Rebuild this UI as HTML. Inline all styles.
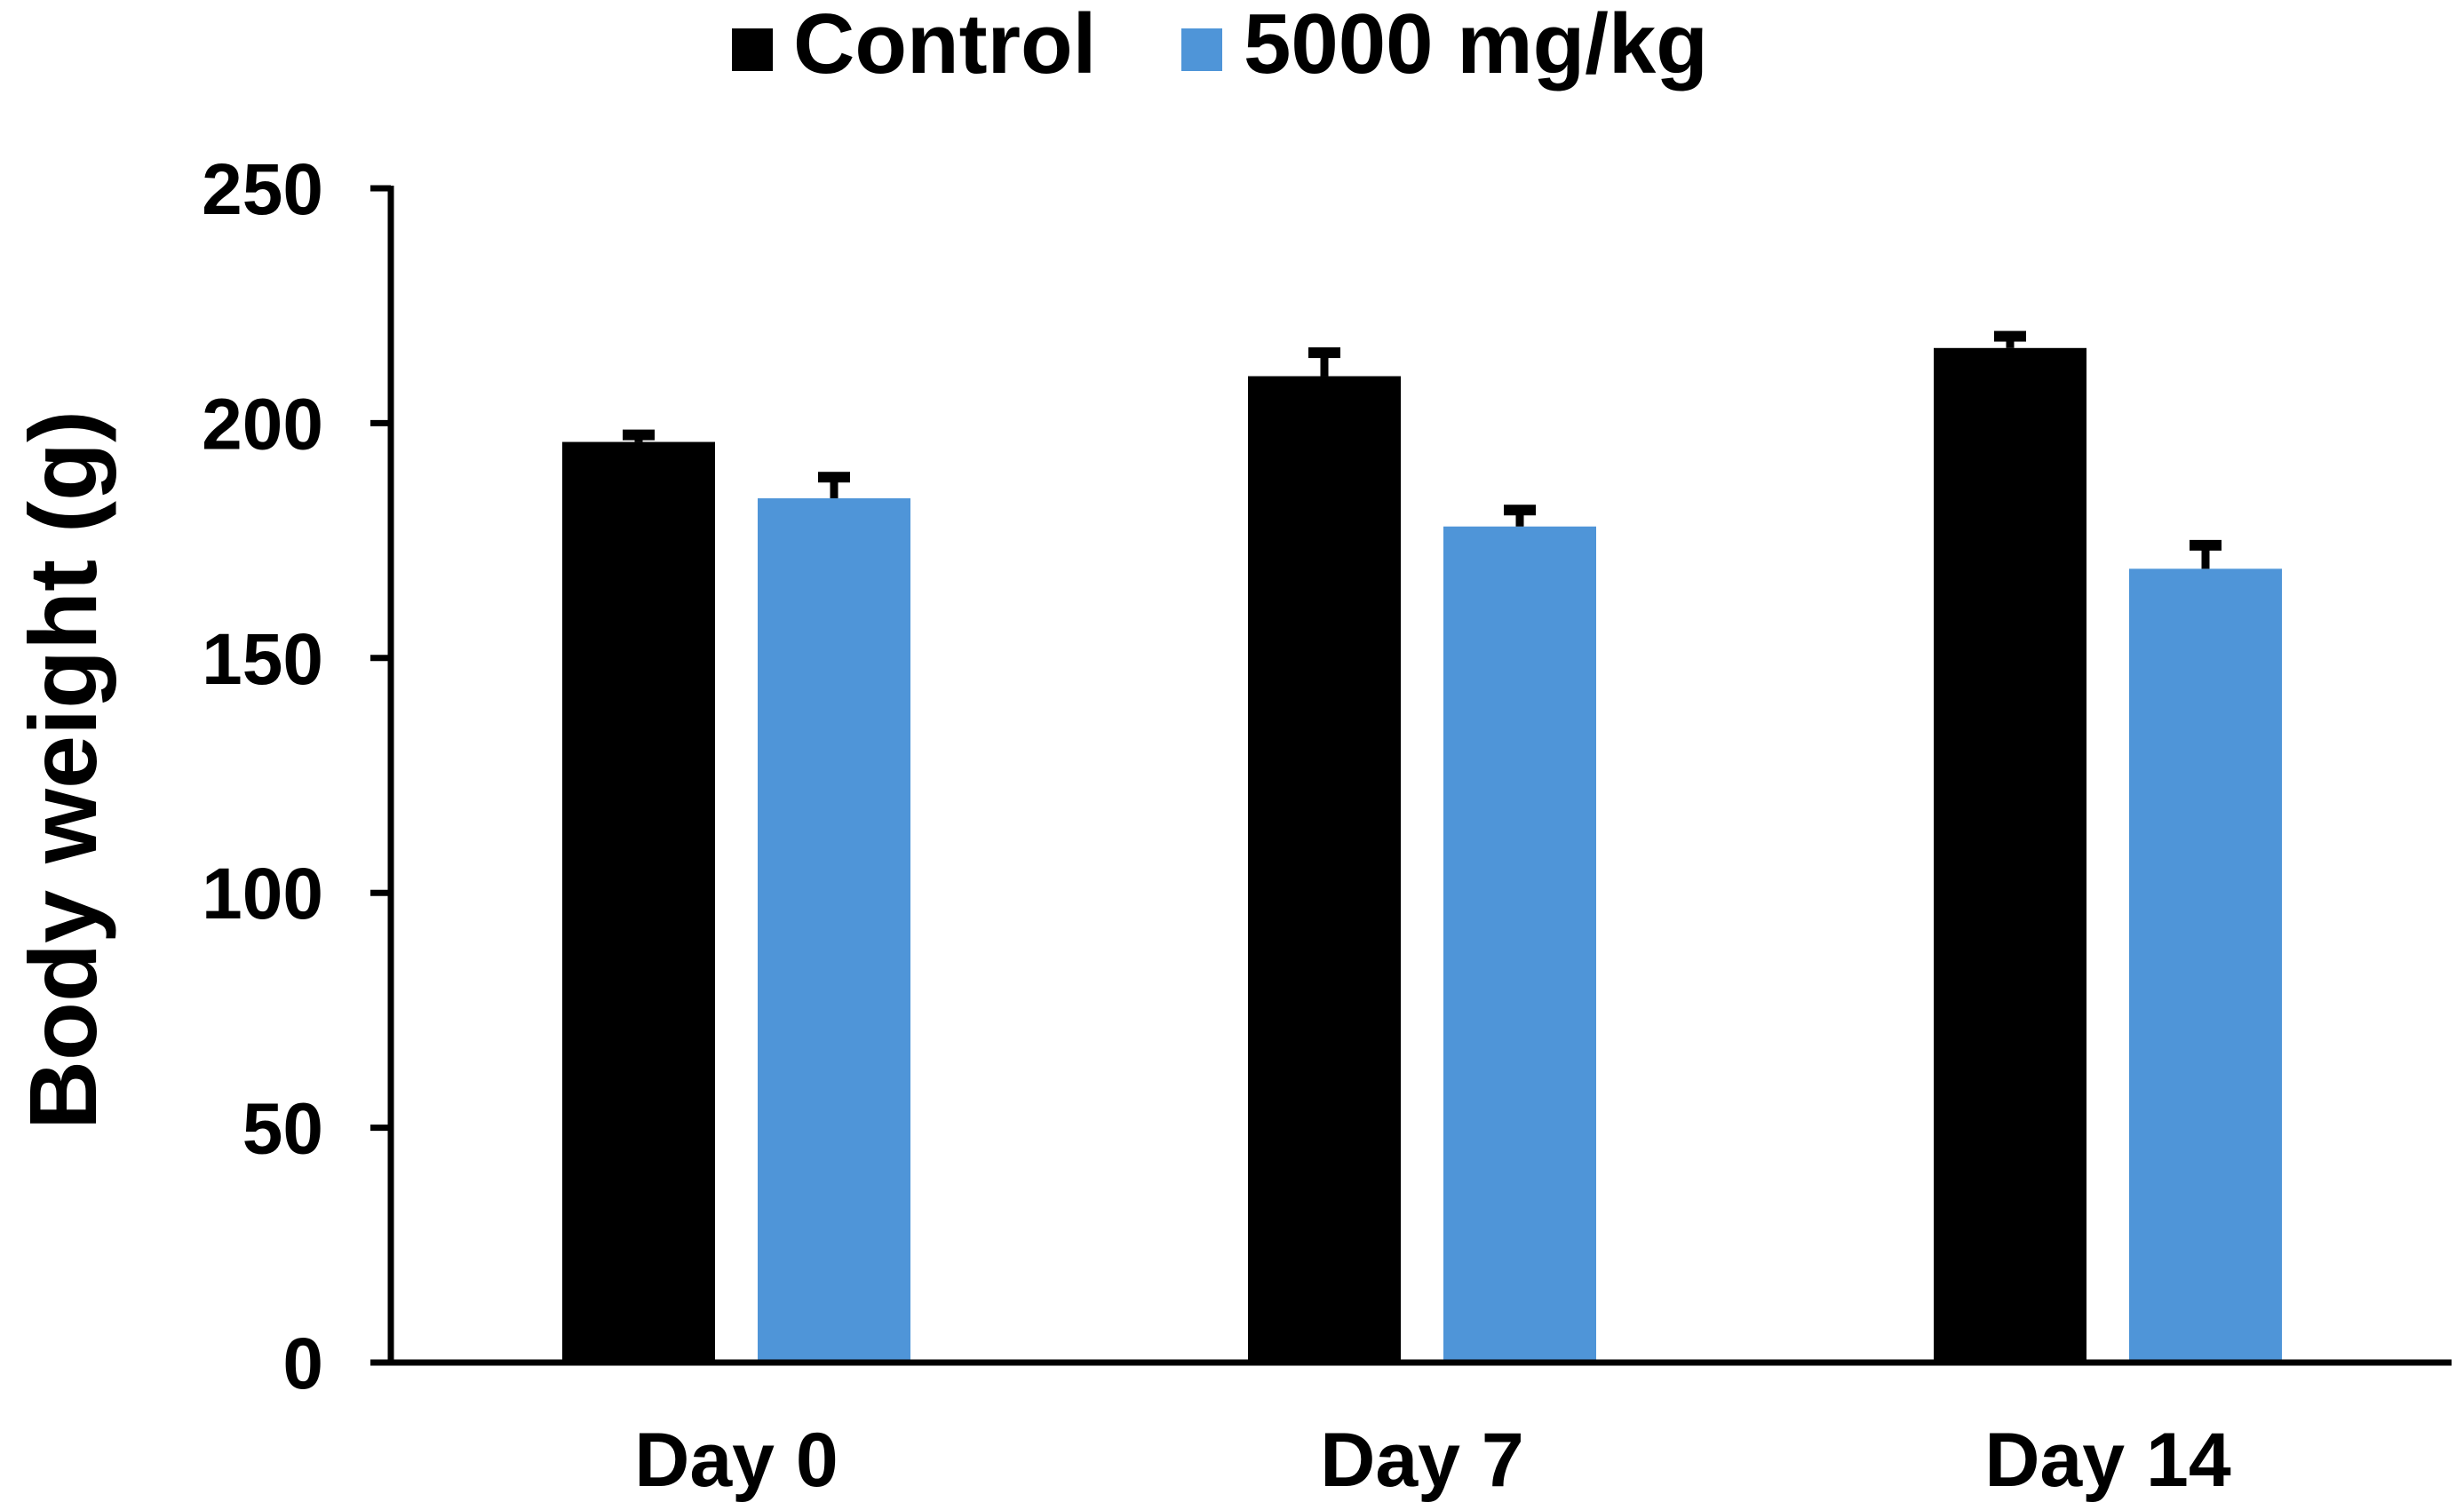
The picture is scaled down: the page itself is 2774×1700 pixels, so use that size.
<!DOCTYPE html>
<html><head><meta charset="utf-8"><style>
html,body{margin:0;padding:0;background:#fff;width:2774px;height:1700px;overflow:hidden}
svg{display:block}
text{font-family:"Liberation Sans",Arial,sans-serif;font-weight:bold;fill:#000}
</style></head><body>
<svg id="chart" width="2774" height="1700" viewBox="0 0 2774 1700" xmlns="http://www.w3.org/2000/svg">
<g id="legend">
  <g>
    <rect x="824" y="32" width="46" height="48" fill="#000"/>
    <text x="893" y="82" font-size="96">Control</text>
  </g>
  <g>
    <rect x="1330" y="32" width="46" height="48" fill="#4f95d8"/>
    <text x="1400" y="82" font-size="96">5000 mg/kg</text>
  </g>
</g>
<text font-size="108" text-anchor="middle" transform="translate(108,867) rotate(-90)">Body weight (g)</text>
<g id="marks"></g>
<g id="axes"></g>
</svg>
<script>
const categories = ["Day 0", "Day 7", "Day 14"];
const controlValues = [196, 210, 216];
const controlErrors = [1.5, 5, 2.5];
const doseValues = [184, 178, 169];
const doseErrors = [4.5, 3.5, 5];
const yTicks = [0, 50, 100, 150, 200, 250];

const NS = "http://www.w3.org/2000/svg";
const plotLeft = 440, plotRight = 2760, y0px = 1534, y250px = 212;
const yMax = 250;
function yScale(v){ return y0px - (v / yMax) * (y0px - y250px); }
const groupWidth = 772;
const firstGroupCenter = 829;
function groupCenter(i){ return firstGroupCenter + i * groupWidth; }
const barW = 172, barGap = 48;

function mk(tag, attrs){
  const el = document.createElementNS(NS, tag);
  for (const k in attrs) el.setAttribute(k, attrs[k]);
  return el;
}
const marks = document.getElementById('marks');
const axes = document.getElementById('axes');

function drawBar(i, v, err, color, offset, series){
  const x = groupCenter(i) + offset;
  const yt = yScale(v);
  const bar = mk('rect', {x: x, y: yt, width: barW, height: y0px - yt, fill: color});
  
  
  marks.appendChild(bar);
  const cx = x + barW / 2;
  const ye = yScale(v + err);
  const stem = mk('line', {x1: cx, x2: cx, y1: yt, y2: ye, stroke: '#000', 'stroke-width': 9});
  
  
  marks.appendChild(stem);
  const cap = mk('rect', {x: cx - 18, y: ye - 6, width: 36, height: 12, fill: '#000'});
  
  
  marks.appendChild(cap);
}
for (let i = 0; i < categories.length; i++){
  drawBar(i, controlValues[i], controlErrors[i], '#000', -barW - barGap/2, 'control');
  drawBar(i, doseValues[i], doseErrors[i], '#4f95d8', barGap/2, 'dose');
}

const yAxis = mk('line', {x1: plotLeft, x2: plotLeft, y1: y250px - 3, y2: y0px + 3, stroke: '#000', 'stroke-width': 7});


axes.appendChild(yAxis);
const xAxis = mk('line', {x1: 417, x2: plotRight, y1: y0px, y2: y0px, stroke: '#000', 'stroke-width': 7});


axes.appendChild(xAxis);

yTicks.forEach(t => {
  const y = yScale(t);
  const tk = mk('line', {x1: 417, x2: plotLeft, y1: y, y2: y, stroke: '#000', 'stroke-width': 7});
  
  
  axes.appendChild(tk);
  const lb = mk('text', {x: 364, y: y + 29, 'font-size': 82, 'text-anchor': 'end'});
  lb.textContent = String(t);
  
  
  axes.appendChild(lb);
});
categories.forEach((c, i) => {
  const lb = mk('text', {x: groupCenter(i), y: 1673, 'font-size': 86, 'text-anchor': 'middle'});
  lb.textContent = c;
  
  
  axes.appendChild(lb);
});
</script>
</body></html>
